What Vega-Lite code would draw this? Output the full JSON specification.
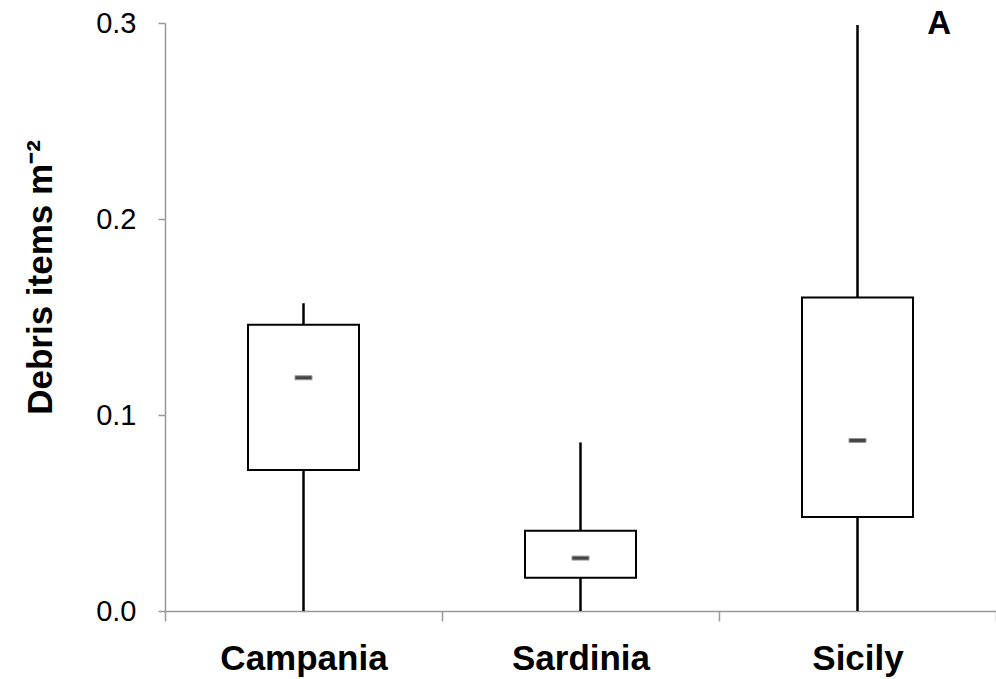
{
  "$schema": "https://vega.github.io/schema/vega-lite/v6.json",
  "width": 831,
  "height": 588,
  "autosize": "none",
  "padding": {"left": 165, "top": 23, "right": 0, "bottom": 68},
  "background": "white",
  "title": {"text": "A", "anchor": "end", "frame": "group", "fontSize": 33, "fontWeight": "bold", "font": "Liberation Sans", "color": "black", "offset": -32, "dx": -45},
  "data": {"values": [
    {"region": "Campania", "min": 0, "q1": 0.072, "median": 0.119, "q3": 0.146, "max": 0.157},
    {"region": "Sardinia", "min": 0, "q1": 0.017, "median": 0.027, "q3": 0.041, "max": 0.086},
    {"region": "Sicily", "min": 0, "q1": 0.048, "median": 0.087, "q3": 0.160, "max": 0.299}
  ]},
  "encoding": {
    "x": {
      "field": "region", "type": "nominal",
      "scale": {"paddingInner": 0, "paddingOuter": 0},
      "axis": {
        "title": null, "labelAngle": 0, "labelFont": "Liberation Sans", "labelFontSize": 35, "labelFontWeight": "bold",
        "labelColor": "black", "labelBaseline": "top", "labelPadding": 20,
        "domainColor": "#999", "domainWidth": 1.5, "tickColor": "#999", "tickWidth": 1.5, "tickSize": 10, "tickBand": "extent"
      }
    }
  },
  "layer": [
    {
      "mark": {"type": "rule", "stroke": "black", "strokeWidth": 2.5},
      "encoding": {
        "y": {
          "field": "min", "type": "quantitative",
          "scale": {"domain": [0, 0.3], "nice": false, "zero": true},
          "axis": {
            "values": [0, 0.1, 0.2, 0.3], "format": ".1f", "grid": false,
            "labelFont": "Liberation Sans", "labelFontSize": 29, "labelColor": "black", "labelPadding": 22,
            "domainColor": "#999", "domainWidth": 1.5, "tickColor": "#999", "tickWidth": 1.5, "tickSize": 7,
            "title": "Debris items m⁻²", "titleFont": "Liberation Sans", "titleFontSize": 35, "titleFontWeight": "bold",
            "titleColor": "black", "titleX": -114, "titleY": 254, "titleAngle": -90, "titleBaseline": "alphabetic", "titleAlign": "center"
          }
        },
        "y2": {"field": "max"}
      }
    },
    {
      "mark": {"type": "bar", "fill": "white", "stroke": "black", "strokeWidth": 2, "size": 111},
      "encoding": {
        "y": {"field": "q1", "type": "quantitative"},
        "y2": {"field": "q3"}
      }
    },
    {
      "mark": {"type": "tick", "orient": "horizontal", "size": 17, "thickness": 4, "fill": "#444", "stroke": "#999", "strokeWidth": 1, "opacity": 1},
      "encoding": {
        "y": {"field": "median", "type": "quantitative"}
      }
    }
  ],
  "config": {"view": {"stroke": null}}
}
